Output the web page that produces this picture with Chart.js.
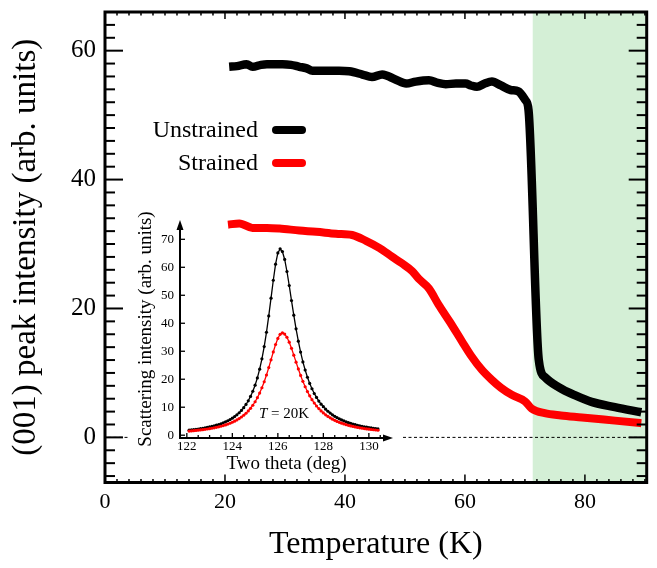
<!DOCTYPE html>
<html>
<head>
<meta charset="utf-8">
<script src="https://cdn.jsdelivr.net/npm/chart.js@4.4.1/dist/chart.umd.min.js"></script>
<style>
  html, body { margin: 0; padding: 0; background: #fff; }
  #wrap { position: relative; width: 657px; height: 568px; }
  #main { position: absolute; left: 0; top: 0; }
  #inset { position: absolute; left: 120px; top: 200px; }
</style>
</head>
<body>
<div id="wrap">
  <canvas id="main" width="657" height="568"></canvas>
  <canvas id="inset" width="285" height="285"></canvas>
</div>
<script>
const SERIF = "'Liberation Serif', 'Times New Roman', serif";
Chart.defaults.font.family = SERIF;
Chart.defaults.color = '#000';

// Main panel: (001) peak intensity vs temperature
const unstrainedT = [20.7, 22, 23.6, 24.6, 26, 27, 29.6, 31, 32.4, 33.5, 34.6, 36, 37.4, 39, 40.7,
  42.9, 44.5, 46.2, 48.5, 50.2, 51.8, 54, 55.5, 56.8, 58.5, 60.1, 61, 62, 63.3, 64.5, 66, 67.6,
  68.9, 70.1, 70.6, 72.3, 73.4, 75.6, 78.4, 81.1, 85, 89.4];
const unstrainedI = [57.5, 57.6, 57.9, 57.5, 57.8, 57.9, 57.9, 57.8, 57.5, 57.3, 56.9, 56.9, 56.9, 56.9, 56.8,
  56.3, 55.9, 56.3, 55.5, 54.9, 55.2, 55.4, 55.0, 54.8, 54.9, 54.9, 54.6, 54.4, 54.9, 55.2, 54.6, 53.9,
  53.7, 52.3, 50.8, 12.1, 9.3, 7.8, 6.5, 5.5, 4.7, 3.9];
const strainedT = [20.5, 22.4, 24.6, 27, 29.1, 32.4, 35.2, 38.5, 41.2, 43.5, 45.7, 47.9, 49.5, 51.2,
  52.3, 54, 55.6, 57.5, 59.5, 61, 62.8, 64.5, 66, 67.8, 70, 71.1, 73.3, 76, 79.5, 85, 89.4];
const strainedI = [33.0, 33.2, 32.5, 32.5, 32.4, 32.1, 31.9, 31.6, 31.4, 30.5, 29.4, 28.0, 27.0, 25.8,
  24.6, 23.1, 20.6, 17.9, 14.9, 12.7, 10.5, 8.9, 7.7, 6.6, 5.6, 4.5, 3.75, 3.4, 3.1, 2.6, 2.2];
const tempTicks = [0, 20, 40, 60, 80];
const intensityTicks = [0, 20, 40, 60];
const shadeFrom = 71.3; // K, start of the green band

// Inset: two-theta scans at T = 20K
const twoTheta = [
  122.1, 122.2, 122.3, 122.4, 122.5, 122.6, 122.7, 122.8, 122.9, 123.0,
  123.1, 123.2, 123.3, 123.4, 123.5, 123.6, 123.7, 123.8, 123.9, 124.0,
  124.1, 124.2, 124.3, 124.4, 124.5, 124.6, 124.7, 124.8, 124.9, 125.0,
  125.1, 125.2, 125.3, 125.4, 125.5, 125.6, 125.7, 125.8, 125.9, 126.0,
  126.1, 126.2, 126.3, 126.4, 126.5, 126.6, 126.7, 126.8, 126.9, 127.0,
  127.1, 127.2, 127.3, 127.4, 127.5, 127.6, 127.7, 127.8, 127.9, 128.0,
  128.1, 128.2, 128.3, 128.4, 128.5, 128.6, 128.7, 128.8, 128.9, 129.0,
  129.1, 129.2, 129.3, 129.4, 129.5, 129.6, 129.7, 129.8, 129.9, 130.0,
  130.1, 130.2, 130.3, 130.4];
const unstrainedScan = [
  1.80, 1.89, 1.99, 2.09, 2.21, 2.33, 2.46, 2.61, 2.77, 2.94,
  3.13, 3.34, 3.57, 3.82, 4.10, 4.42, 4.77, 5.16, 5.60, 6.09,
  6.65, 7.29, 8.03, 8.87, 9.84, 10.98, 12.30, 13.86, 15.70, 17.88,
  20.48, 23.58, 27.28, 31.66, 36.78, 42.61, 48.96, 55.37, 61.10, 65.13,
  66.60, 65.6, 62.8, 58.5, 53.5, 48.1, 42.9, 38.0, 33.6, 29.7,
  26.2, 23.3, 20.7, 18.5, 16.6, 14.9, 13.5, 12.2, 11.1, 10.2,
  9.31, 8.56, 7.89, 7.29, 6.76, 6.28, 5.84, 5.45, 5.10, 4.78,
  4.49, 4.22, 3.98, 3.75, 3.55, 3.36, 3.18, 3.02, 2.87, 2.73,
  2.60, 2.48, 2.37, 2.26];
const strainedScan = [
  1.46, 1.53, 1.61, 1.69, 1.78, 1.87, 1.98, 2.09, 2.21, 2.34,
  2.48, 2.64, 2.81, 3.00, 3.20, 3.43, 3.68, 3.96, 4.27, 4.62,
  5.01, 5.45, 5.94, 6.50, 7.13, 7.85, 8.68, 9.62, 10.71, 11.96,
  13.40, 15.06, 16.95, 19.10, 21.51, 24.15, 26.95, 29.77, 32.41, 34.59,
  36.06, 36.57, 36.15, 35.00, 33.23, 31.04, 28.61, 26.11, 23.67, 21.36,
  19.24, 17.32, 15.59, 14.06, 12.70, 11.50, 10.44, 9.51, 8.68, 7.95,
  7.29, 6.71, 6.20, 5.73, 5.32, 4.94, 4.60, 4.30, 4.02, 3.76,
  3.53, 3.32, 3.13, 2.95, 2.79, 2.64, 2.50, 2.37, 2.25, 2.14,
  2.04, 1.95, 1.86, 1.77];
const thetaTicks = [122, 124, 126, 128, 130];
const scanTicks = [0, 10, 20, 30, 40, 50, 60, 70];

const pairs = (xs, ys) => xs.map((x, i) => ({ x, y: ys[i] }));
const fixTicks = vals => scale => { scale.ticks = vals.map(v => ({ value: v })); };
// pin an axis box to a fixed size and drop the label overhang padding
const pinSize = (prop, size) => scale => {
  scale[prop] = size;
  scale.paddingTop = scale.paddingBottom = scale.paddingLeft = scale.paddingRight = 0;
};

function tickMark(ctx, x1, y1, x2, y2) {
  ctx.beginPath();
  ctx.moveTo(x1, y1);
  ctx.lineTo(x2, y2);
  ctx.stroke();
}

const mainDecor = {
  id: 'mainDecor',
  beforeDatasetsDraw(chart) {
    const { ctx, chartArea: a, scales: { x, y } } = chart;
    ctx.save();
    const xs = x.getPixelForValue(shadeFrom);
    ctx.fillStyle = '#d4efd6';
    ctx.fillRect(xs, a.top, a.right - xs, a.bottom - a.top);
    // dashed zero line, broken where the inset sits
    const y0 = y.getPixelForValue(0);
    ctx.strokeStyle = '#000';
    ctx.lineWidth = 1;
    ctx.setLineDash([3, 2.5]);
    ctx.beginPath();
    ctx.moveTo(a.left + 3, y0); ctx.lineTo(128, y0);
    ctx.moveTo(403, y0); ctx.lineTo(a.right - 4, y0);
    ctx.stroke();
    ctx.restore();
  },
  afterDatasetsDraw(chart) {
    const { ctx, chartArea: a, scales: { x, y } } = chart;
    ctx.save();
    ctx.strokeStyle = '#000';
    // inward ticks on all four sides
    ctx.lineWidth = 2;
    for (let v = -6; v <= 66; v += 2) {
      const py = y.getPixelForValue(v);
      const len = v % 20 === 0 ? 18 : 10;
      tickMark(ctx, a.left, py, a.left + len, py);
      tickMark(ctx, a.right, py, a.right - len, py);
    }
    ctx.lineWidth = 1.5;
    for (let v = 2; v <= 90; v += 2) {
      const px = x.getPixelForValue(v);
      const major = v % 20 === 0;
      tickMark(ctx, px, a.bottom, px, a.bottom - (major ? 8 : 3.5));
      tickMark(ctx, px, a.top, px, a.top + (major ? 7 : 3.5));
    }
    ctx.lineWidth = 3;
    ctx.strokeRect(a.left, a.top, a.right - a.left, a.bottom - a.top);

    // legend
    const rows = [['Unstrained', '#000000', 130], ['Strained', '#ff0000', 163]];
    ctx.font = '24px ' + SERIF;
    ctx.textAlign = 'right';
    ctx.textBaseline = 'middle';
    ctx.lineCap = 'round';
    rows.forEach(([label, color, ly]) => {
      ctx.fillStyle = '#000';
      ctx.fillText(label, 258, ly + 1);
      ctx.strokeStyle = color;
      ctx.lineWidth = 8;
      tickMark(ctx, 276, ly, 302, ly);
    });
    ctx.restore();
  }
};

new Chart(document.getElementById('main'), {
  type: 'line',
  data: {
    datasets: [
      { label: 'Strained', data: pairs(strainedT, strainedI), borderColor: '#ff0000', borderWidth: 8,
        pointRadius: 0, cubicInterpolationMode: 'monotone', borderCapStyle: 'butt', borderJoinStyle: 'round' },
      { label: 'Unstrained', data: pairs(unstrainedT, unstrainedI), borderColor: '#000000', borderWidth: 8.5,
        pointRadius: 0, cubicInterpolationMode: 'monotone', borderCapStyle: 'butt', borderJoinStyle: 'round' }
    ]
  },
  options: {
    responsive: false,
    animation: false,
    events: [],
    layout: { padding: { left: 0, top: 12, right: 10.3, bottom: 0 } },
    plugins: { legend: { display: false }, tooltip: { enabled: false } },
    scales: {
      x: {
        type: 'linear', min: 0, max: 90.3,
        grid: { display: false, drawTicks: false }, border: { display: false },
        afterBuildTicks: fixTicks(tempTicks),
        afterFit: pinSize('height', 85.5),
        ticks: { font: { size: 22 }, padding: 7, maxRotation: 0 },
        title: { display: true, text: 'Temperature (K)', font: { size: 32 }, padding: { top: 0, bottom: 4 } }
      },
      y: {
        type: 'linear', min: -7, max: 66,
        grid: { display: false, drawTicks: false }, border: { display: false },
        afterBuildTicks: fixTicks(intensityTicks),
        afterFit: pinSize('width', 105),
        ticks: { font: { size: 25 }, padding: 9 },
        title: { display: true, text: '(001) peak intensity (arb. units)', font: { size: 33 }, padding: { top: 7, bottom: 0 } }
      }
    }
  },
  plugins: [mainDecor]
});

const insetDecor = {
  id: 'insetDecor',
  afterDatasetsDraw(chart) {
    const { ctx, chartArea: a, scales: { x, y } } = chart;
    ctx.save();
    ctx.strokeStyle = '#000';
    ctx.fillStyle = '#000';
    // axes with arrow heads
    ctx.lineWidth = 2;
    tickMark(ctx, a.left, a.bottom + 1, a.left, a.top + 6);
    tickMark(ctx, a.left - 1, a.bottom, a.right - 6, a.bottom);
    ctx.beginPath();
    ctx.moveTo(a.left, a.top); ctx.lineTo(a.left - 3.5, a.top + 10); ctx.lineTo(a.left + 3.5, a.top + 10);
    ctx.closePath(); ctx.fill();
    ctx.beginPath();
    ctx.moveTo(a.right, a.bottom); ctx.lineTo(a.right - 10, a.bottom - 3.5); ctx.lineTo(a.right - 10, a.bottom + 3.5);
    ctx.closePath(); ctx.fill();
    // inward ticks
    ctx.lineWidth = 1.3;
    scanTicks.forEach(v => {
      const py = y.getPixelForValue(v);
      tickMark(ctx, a.left, py, a.left + 5, py);
    });
    for (let v = 122; v <= 130.5; v += 0.5) {
      const px = x.getPixelForValue(v);
      tickMark(ctx, px, a.bottom, px, a.bottom - (v % 2 === 0 ? 5 : 3));
    }
    // T = 20K label
    const tx = x.getPixelForValue(125.17);
    const ty = y.getPixelForValue(6.08);
    ctx.textBaseline = 'alphabetic';
    ctx.textAlign = 'left';
    ctx.font = 'italic 15px ' + SERIF;
    ctx.fillText('T', tx, ty);
    const tw = ctx.measureText('T').width;
    ctx.font = '15px ' + SERIF;
    ctx.fillText(' = 20K', tx + tw, ty);
    ctx.restore();
  }
};

new Chart(document.getElementById('inset'), {
  type: 'line',
  data: {
    datasets: [
      { label: 'Strained', data: pairs(twoTheta, strainedScan), borderColor: '#ff0000', borderWidth: 1.3,
        pointRadius: 1.6, pointBorderWidth: 0, pointBackgroundColor: '#ff0000' },
      { label: 'Unstrained', data: pairs(twoTheta, unstrainedScan), borderColor: '#000000', borderWidth: 1.3,
        pointRadius: 1.6, pointBorderWidth: 0, pointBackgroundColor: '#000000' }
    ]
  },
  options: {
    responsive: false,
    animation: false,
    events: [],
    layout: { padding: { left: 0, top: 20, right: 12, bottom: 0 } },
    plugins: { legend: { display: false }, tooltip: { enabled: false } },
    scales: {
      x: {
        type: 'linear', min: 121.7, max: 131.06,
        grid: { display: false, drawTicks: false }, border: { display: false },
        afterBuildTicks: fixTicks(thetaTicks),
        afterFit: pinSize('height', 47),
        ticks: { font: { size: 13 }, padding: 1, maxRotation: 0 },
        title: { display: true, text: 'Two theta (deg)', font: { size: 19 }, padding: { top: 0, bottom: 10 } }
      },
      y: {
        type: 'linear', min: -1, max: 76.9,
        grid: { display: false, drawTicks: false }, border: { display: false },
        afterBuildTicks: fixTicks(scanTicks),
        afterFit: pinSize('width', 60),
        ticks: { font: { size: 13 }, padding: 6 },
        title: { display: true, text: 'Scattering intensity (arb. units)', font: { size: 19 }, padding: { top: 15, bottom: 0 } }
      }
    }
  },
  plugins: [insetDecor]
});
</script>
</body>
</html>
